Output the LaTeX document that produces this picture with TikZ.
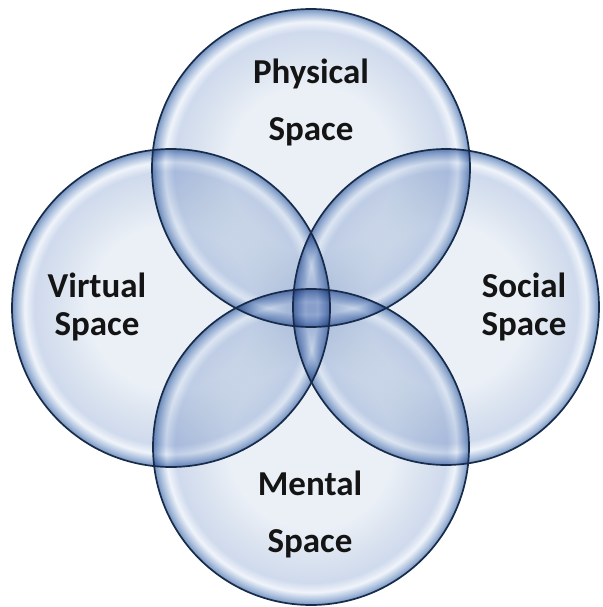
\documentclass[tikz,border=0pt]{standalone}
\usepackage{fontspec}
\setmainfont{Carlito}
\usepackage{xcolor}

\definecolor{rimline}{HTML}{172C4A}
\definecolor{bubin}{HTML}{EBF0F7}
\definecolor{bubmid}{HTML}{D9E2EF}
\definecolor{bubdeep}{HTML}{CFDAED}
\definecolor{bubglow}{HTML}{F0F4FA}
\definecolor{bubrim}{HTML}{A4BADA}
\definecolor{bubedge}{HTML}{7793BF}

\pgfdeclareradialshading{bubble}{\pgfpoint{0bp}{0bp}}{%
 color(0bp)=(bubin); color(13bp)=(bubin); color(18bp)=(bubmid);
 color(21.5bp)=(bubdeep); color(23bp)=(bubglow); color(24.3bp)=(bubrim);
 color(25bp)=(bubedge); color(50bp)=(bubedge)}

\begin{document}
\begin{tikzpicture}[x=1pt,y=-1pt,
 bubble/.style={shading=bubble,blend mode=multiply},
 rim/.style={draw=rimline,line width=1.7pt},
 tall/.style={align=center,inner sep=0pt,text=black!92,font=\fontsize{35}{57}\selectfont\bfseries},
 flat/.style={align=center,inner sep=0pt,text=black!92,font=\fontsize{35}{38}\selectfont\bfseries}, ]

 \useasboundingbox (0,0) rectangle (602,607);

 % the four spaces: top, left, right, bottom
 \foreach \cx/\cy/\rx/\ry in {311/168/159/159, 171/308/159/159, 446/307/153/158, 311/447/158/158}
  \shade[bubble] (\cx,\cy) ellipse [x radius=\rx, y radius=\ry];
 \foreach \cx/\cy/\rx/\ry in {311/168/159/159, 171/308/159/159, 446/307/153/158, 311/447/158/158}
  \draw[rim] (\cx,\cy) ellipse [x radius=\rx, y radius=\ry];

 \node[tall] (physical) at (311,102) {Physical\\Space};
 \node[flat] (virtual) at (97,307) {Virtual\\Space};
 \node[flat] (social) at (524,307) {Social\\Space};
 \node[tall] (mental) at (310,514) {Mental\\Space};

\end{tikzpicture}
\end{document}
